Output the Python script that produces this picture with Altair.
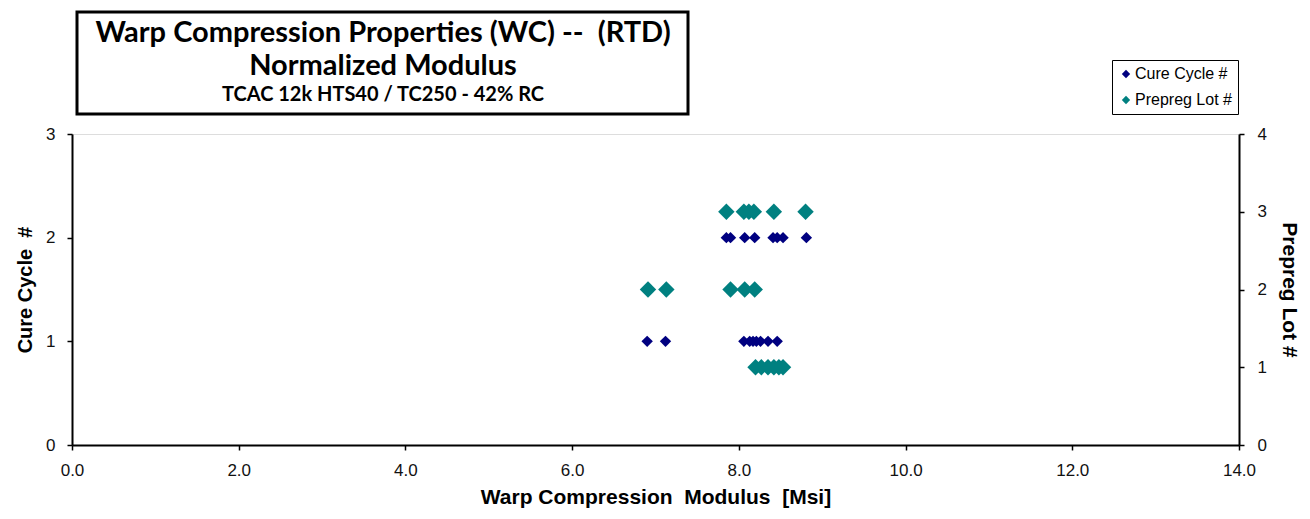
import altair as alt
import pandas as pd

# ---- data ----
cure_modulus = [6.90, 7.12, 8.06, 8.13, 8.17, 8.21, 8.26, 8.35, 8.46,
                7.85, 7.90, 8.07, 8.19, 8.41, 8.46, 8.53, 8.81]
cure_cycle = [1, 1, 1, 1, 1, 1, 1, 1, 1,
              2, 2, 2, 2, 2, 2, 2, 2]

lot_modulus = [8.20, 8.27, 8.35, 8.42, 8.48, 8.53,
               6.91, 7.13, 7.90, 8.07, 8.19,
               7.85, 8.06, 8.12, 8.18, 8.42, 8.80]
lot_number = [1, 1, 1, 1, 1, 1,
              2, 2, 2, 2, 2,
              3, 3, 3, 3, 3, 3]

series_names = ["Cure Cycle #", "Prepreg Lot #"]
series_colors = ["#000080", "#008080"]
x_ticks = [0, 2, 4, 6, 8, 10, 12, 14]
left_ticks = [0, 1, 2, 3]
right_ticks = [0, 1, 2, 3, 4]

NB = "\u00a0"
title_lines = ["Warp Compression Properties (WC) --" + NB + " (RTD)", "Normalized Modulus"]
subtitle = "TCAC 12k HTS40 / TC250 - 42% RC"
x_title = "Warp Compression" + NB + " Modulus" + NB + " [Msi]"
left_title = "Cure Cycle" + NB + " #"
right_title = "Prepreg Lot #"

cure_df = pd.DataFrame({"Modulus": cure_modulus, "Cure": cure_cycle, "Series": series_names[0]})
lot_df = pd.DataFrame({"Modulus": lot_modulus, "Lot": lot_number, "Series": series_names[1]})

W, H = 1167, 311
FONT = "Liberation Sans"
TFONT = "Lato"

color_scale = alt.Scale(domain=series_names, range=series_colors)

axis_common = dict(grid=False, domainColor="black", domainWidth=2, tickColor="black",
                   tickWidth=1.5, tickSize=5, labelFont=FONT, labelFontSize=17,
                   labelColor="#111111", labelFlush=False, titleFont=FONT,
                   titleFontWeight="bold", titleColor="black")

x_enc = alt.X("Modulus:Q",
              scale=alt.Scale(domain=[0, 14], nice=False, zero=True),
              axis=alt.Axis(values=x_ticks, format=".1f", title=x_title,
                            titleFontSize=21, labelPadding=12, titlePadding=8,
                            **axis_common))

legend = alt.Legend(title=None, orient="none", legendX=1040, legendY=-74,
                    strokeColor="black", fillColor="white", padding=6,
                    labelFont=FONT, labelFontSize=16, labelColor="black",
                    symbolType="diamond", symbolSize=70, rowPadding=10,
                    labelOffset=1, cornerRadius=0, symbolStrokeWidth=0)

cure = alt.Chart(cure_df).mark_point(shape="diamond", filled=True, size=130, opacity=1).encode(
    x=x_enc,
    y=alt.Y("Cure:Q", scale=alt.Scale(domain=[0, 3], nice=False),
            axis=alt.Axis(orient="left", values=left_ticks, format="d",
                          title=left_title, titleFontSize=20, labelPadding=12,
                          titlePadding=10, **axis_common)),
    color=alt.Color("Series:N", scale=color_scale, legend=legend),
)

lot = alt.Chart(lot_df).mark_point(shape="diamond", filled=True, size=270, opacity=1).encode(
    x=x_enc,
    y=alt.Y("Lot:Q", scale=alt.Scale(domain=[0, 4], nice=False),
            axis=alt.Axis(orient="right", values=right_ticks, format="d",
                          title=right_title, titleAngle=90, titleFontSize=21,
                          labelPadding=13, titlePadding=12, **axis_common)),
    color=alt.Color("Series:N", scale=color_scale, legend=legend),
)

one = alt.Data(values=[{"a": 1}])
box = alt.Chart(one).mark_rect(fill="white", stroke="black", strokeWidth=3).encode(
    x=alt.value(5), x2=alt.value(616), y=alt.value(-122), y2=alt.value(-20))
t1 = alt.Chart(one).mark_text(font=TFONT, fontSize=29, fontWeight="bold", color="black",
                              align="center", baseline="middle").encode(
    x=alt.value(311), y=alt.value(-101), text=alt.value(title_lines[0]))
t2 = alt.Chart(one).mark_text(font=TFONT, fontSize=29, fontWeight="bold", color="black",
                              align="center", baseline="middle").encode(
    x=alt.value(311), y=alt.value(-68), text=alt.value(title_lines[1]))
t3 = alt.Chart(one).mark_text(font=TFONT, fontSize=20, fontWeight="bold", color="black",
                              align="center", baseline="middle").encode(
    x=alt.value(311), y=alt.value(-39), text=alt.value(subtitle))

chart = alt.layer(cure, lot, box, t1, t2, t3).resolve_scale(y="independent").properties(
    width=W, height=H,
    autosize=alt.AutoSizeParams(type="none"),
    padding={"left": 64, "top": 126, "right": 63, "bottom": 66},
).configure_view(stroke="black", strokeWidth=2).configure(background="white")

chart.save("out.html", embed_options={"renderer": "svg", "actions": False})
